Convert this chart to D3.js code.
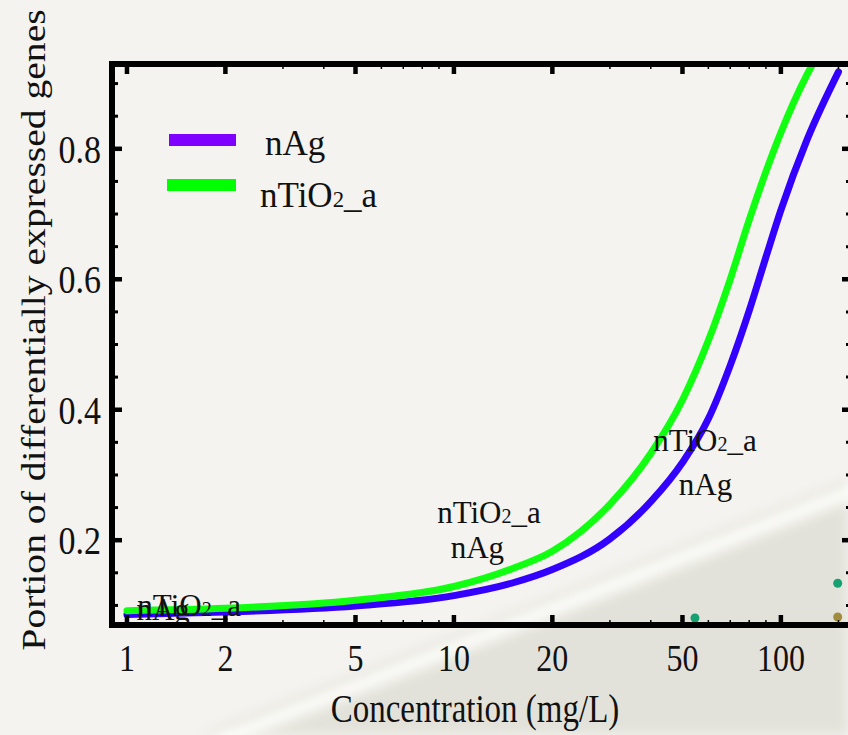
<!DOCTYPE html>
<html>
<head>
<meta charset="utf-8">
<script src="https://cdn.jsdelivr.net/npm/d3@7"></script>
<style>
html, body { margin: 0; padding: 0; background: #f4f3ef; overflow: hidden; }
svg { display: block; }
</style>
</head>
<body>
<div id="chart"></div>
<script>
// concentrations (mg/L) and fitted curve values
var conc   = [1, 2, 5, 10, 15, 20, 30, 40, 50, 60, 70, 80, 90, 100, 120, 150];
var nAg    = [0.086, 0.090, 0.099, 0.115, 0.134, 0.155, 0.202, 0.259, 0.319, 0.386, 0.468, 0.552, 0.634, 0.706, 0.813, 0.918];
var nTiO2a = [0.092, 0.0955, 0.108, 0.129, 0.156, 0.183, 0.255, 0.333, 0.415, 0.506, 0.600, 0.691, 0.765, 0.825, 0.913, 0.990];

var xTicks = [1, 2, 5, 10, 20, 50, 100];
var xMinor = [3, 4, 6, 7, 8, 9, 30, 40, 60, 70, 80, 90, 150];
var yTicks = [0.2, 0.4, 0.6, 0.8];
var yMinor = [0.1, 0.15, 0.25, 0.3, 0.35, 0.45, 0.5, 0.55, 0.65, 0.7, 0.75, 0.85, 0.9];

// text labels placed on the curves
var labelNames = ["nTiO2_a", "nAg", "nTiO2_a", "nAg", "nTiO2_a", "nAg"];
var labelConc  = [1.55, 1.29, 12.8, 11.8, 58.6, 58.8];
var labelVal   = [0.0838, 0.0777, 0.2264, 0.1727, 0.3367, 0.2693];

// stray coloured dots near the bottom right
var dotConc  = [54.6, 149.2, 149.2];
var dotVal   = [0.0807, 0.134, 0.0823];
var dotColor = ["#17a071", "#17a071", "#a08c3c"];

var FONT = "'Liberation Serif', Tinos, 'Times New Roman', Times, 'DejaVu Serif', 'Noto Serif', serif";

var W = 848, H = 735;
var margin = {top: 64, right: -4, bottom: 110, left: 112};
var width = W - margin.left - margin.right,
    height = H - margin.top - margin.bottom;

var series = [
  {name: "nAg", values: nAg, color: "#3300ff", legend: "#8000ff"},
  {name: "nTiO2_a", values: nTiO2a, color: "#11ff11", legend: "#00ff00"}
];

var svg = d3.select("#chart").append("svg")
    .attr("width", W)
    .attr("height", H)
    .attr("font-family", FONT)
    .style("font-family", FONT);

// soft background shape
var defs = svg.append("defs");
var blur = defs.append("filter").attr("id", "soft").attr("x", "-20%").attr("y", "-20%").attr("width", "140%").attr("height", "140%");
blur.append("feGaussianBlur").attr("stdDeviation", 6);
svg.append("path")
    .attr("d", "M200,735 L848,480 L848,735 Z")
    .attr("fill", "#e3e2da")
    .attr("filter", "url(#soft)");
svg.append("path")
    .attr("d", "M215,742 L860,488")
    .attr("stroke", "#fbfbf8")
    .attr("stroke-width", 16)
    .attr("filter", "url(#soft)");

var x = d3.scaleLog().domain([0.9, 165]).range([0, width]);
var y = d3.scaleLinear().domain([0.07, 0.93]).range([height, 0]);

var g = svg.append("g")
    .attr("transform", "translate(" + margin.left + "," + margin.top + ")");

defs.append("clipPath").attr("id", "plot")
  .append("rect").attr("x", 0).attr("y", 0).attr("width", width).attr("height", height);

// dots
g.selectAll(".dot")
  .data(dotConc)
  .enter().append("circle")
    .attr("class", "dot")
    .attr("cx", function(d) { return x(d); })
    .attr("cy", function(d, i) { return y(dotVal[i]); })
    .attr("r", 4.5)
    .attr("fill", function(d, i) { return dotColor[i]; });

// curves
var line = d3.line()
    .x(function(d, i) { return x(conc[i]); })
    .y(function(d) { return y(d); })
    .curve(d3.curveMonotoneX);

g.append("g").attr("clip-path", "url(#plot)")
  .selectAll("path")
  .data(series)
  .enter().append("path")
    .attr("d", function(d) { return line(d.values); })
    .attr("fill", "none")
    .attr("stroke", function(d) { return d.color; })
    .attr("stroke-width", 7)
    .attr("stroke-linecap", "round");

// labels with subscript 2
function addName(sel, name) {
  sel.attr("font-family", FONT).attr("fill", "#111");
  if (name.indexOf("O2") > -1) {
    sel.append("tspan").text("nTiO");
    sel.append("tspan").attr("font-size", "65%").text("2");
    sel.append("tspan").text("_a");
  } else {
    sel.text(name);
  }
}

labelNames.forEach(function(name, i) {
  var t = g.append("text")
      .attr("x", x(labelConc[i]))
      .attr("y", y(labelVal[i]))
      .attr("text-anchor", "middle")
      .attr("font-size", 31);
  addName(t, name);
});

// frame
g.append("rect")
    .attr("x", 0).attr("y", 0)
    .attr("width", width).attr("height", height)
    .attr("fill", "none")
    .attr("stroke", "#000")
    .attr("stroke-width", 6);

// ticks (inward, on all sides)
function xTick(vals, len, w) {
  vals.forEach(function(v) {
    g.append("line").attr("x1", x(v)).attr("x2", x(v)).attr("y1", height).attr("y2", height - len)
      .attr("stroke", "#000").attr("stroke-width", w);
    g.append("line").attr("x1", x(v)).attr("x2", x(v)).attr("y1", 0).attr("y2", len)
      .attr("stroke", "#000").attr("stroke-width", w);
  });
}
function yTick(vals, len, w) {
  vals.forEach(function(v) {
    g.append("line").attr("x1", 0).attr("x2", len).attr("y1", y(v)).attr("y2", y(v))
      .attr("stroke", "#000").attr("stroke-width", w);
    g.append("line").attr("x1", width).attr("x2", width - len).attr("y1", y(v)).attr("y2", y(v))
      .attr("stroke", "#000").attr("stroke-width", w);
  });
}
xTick(xTicks, 10, 4.5);
xTick(xMinor, 5, 1.5);
yTick(yTicks, 10, 4.5);
yTick(yMinor, 6, 3);

// tick labels (slightly stretched vertically like the source)
xTicks.forEach(function(v) {
  g.append("text")
      .attr("transform", "translate(" + x(v) + "," + (height + 46) + ") scale(1,1.2)")
      .attr("text-anchor", "middle")
      .attr("font-size", 32)
      .attr("fill", "#111")
      .text(v);
});
yTicks.forEach(function(v) {
  g.append("text")
      .attr("transform", "translate(-11," + (y(v) + 14) + ") scale(1,1.2)")
      .attr("text-anchor", "end")
      .attr("font-size", 34)
      .attr("fill", "#111")
      .text(d3.format(".1f")(v));
});

// axis titles
svg.append("text")
    .attr("transform", "translate(475,722) scale(1,1.2)")
    .attr("text-anchor", "middle")
    .attr("font-size", 33)
    .attr("fill", "#111")
    .text("Concentration (mg/L)");
svg.append("text")
    .attr("transform", "translate(45,330) rotate(-90) scale(1.2,1)")
    .attr("text-anchor", "middle")
    .attr("font-size", 33)
    .attr("fill", "#111")
    .text("Portion of differentially expressed genes");

// legend
var legend = svg.append("g").attr("transform", "translate(168,140)");
series.forEach(function(s, i) {
  legend.append("line")
      .attr("x1", i ? -1 : 1).attr("x2", 68)
      .attr("y1", i * 45).attr("y2", i * 45)
      .attr("stroke", s.legend)
      .attr("stroke-width", 12);
  var t = legend.append("text")
      .attr("x", i ? 92 : 97)
      .attr("y", i * 45 + (i ? 22 : 15))
      .attr("font-size", 35);
  addName(t, s.name);
});
</script>
</body>
</html>
